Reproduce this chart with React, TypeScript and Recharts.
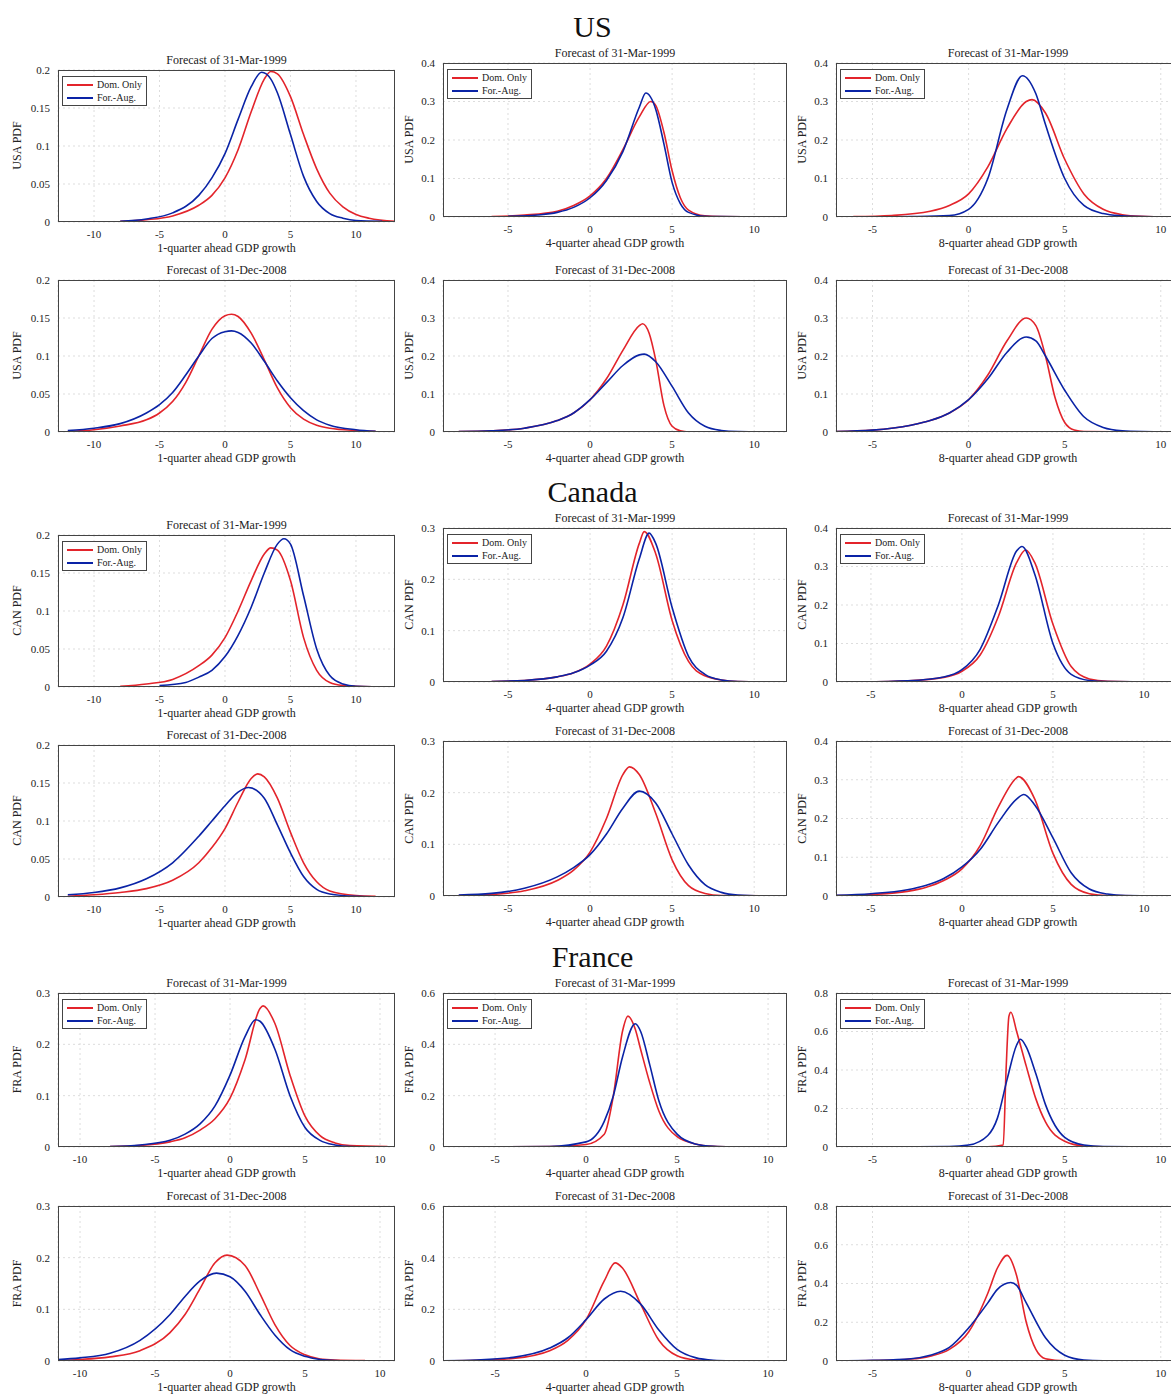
import React from 'react';
import { LineChart, Line, XAxis, YAxis, CartesianGrid } from 'recharts';

type P = [number, number][];
const RED = '#e3242b';
const BLUE = '#0a23a6';
const FONT = '"Liberation Serif", "DejaVu Serif", serif';

// ---- US ----
const us1q99Dom: P = [[-8,0.001],[-6,0.003],[-4,0.008],[-2,0.022],[-1,0.035],[0,0.058],[1,0.095],[2,0.145],[3,0.188],[3.5,0.198],[4,0.195],[5,0.165],[6,0.115],[7,0.07],[8,0.038],[9,0.02],[10,0.01],[11,0.005],[13,0.001]];
const us1q99For: P = [[-8,0.001],[-6,0.004],[-4,0.012],[-2,0.035],[-1,0.058],[0,0.09],[1,0.135],[2,0.178],[2.8,0.197],[3.5,0.188],[4,0.17],[5,0.115],[6,0.06],[7,0.027],[8,0.011],[9,0.005],[10,0.002],[12,0.001]];
const us4q99Dom: P = [[-6,0.001],[-4,0.005],[-2,0.015],[-1,0.03],[0,0.055],[1,0.1],[2,0.175],[3,0.26],[3.7,0.3],[4,0.29],[4.5,0.22],[5,0.12],[5.5,0.05],[6,0.018],[7,0.003],[8,0.001],[11,0]];
const us4q99For: P = [[-5,0.002],[-3,0.006],[-2,0.012],[-1,0.025],[0,0.05],[1,0.095],[2,0.17],[3,0.285],[3.4,0.322],[4,0.28],[4.5,0.19],[5,0.09],[5.5,0.035],[6,0.012],[7,0.002],[8,0.001],[11,0]];
const us8q99Dom: P = [[-6,0.001],[-4,0.004],[-2,0.015],[-1,0.03],[0,0.06],[1,0.13],[2,0.23],[3,0.3],[3.3,0.305],[4,0.27],[5,0.15],[6,0.06],[7,0.02],[8,0.006],[9,0.002],[11,0]];
const us8q99For: P = [[-5,0],[-3,0.001],[-1,0.004],[0,0.02],[1,0.1],[2,0.28],[2.8,0.367],[3.5,0.32],[4,0.24],[5,0.1],[6,0.03],[7,0.009],[8,0.003],[9,0.001],[11,0]];
const us1q08Dom: P = [[-12,0.001],[-10,0.003],[-8,0.008],[-6,0.016],[-5,0.025],[-4,0.04],[-3,0.065],[-2,0.1],[-1,0.135],[0,0.153],[0.5,0.155],[1,0.152],[2,0.13],[3,0.095],[4,0.058],[5,0.032],[6,0.017],[7,0.009],[8,0.005],[10,0.002],[11.5,0.001]];
const us1q08For: P = [[-12,0.002],[-10,0.005],[-8,0.011],[-6,0.025],[-5,0.036],[-4,0.052],[-3,0.075],[-2,0.1],[-1,0.123],[0,0.132],[0.5,0.133],[1,0.131],[2,0.117],[3,0.093],[4,0.067],[5,0.045],[6,0.028],[7,0.016],[8,0.009],[10,0.003],[11.5,0.001]];
const us4q08Dom: P = [[-8,0.001],[-6,0.003],[-4,0.01],[-2,0.03],[-1,0.05],[0,0.085],[1,0.14],[2,0.215],[3,0.28],[3.2,0.285],[3.6,0.26],[4,0.19],[4.5,0.07],[5,0.015],[5.5,0.003],[6,0],[11,0]];
const us4q08For: P = [[-8,0.001],[-6,0.003],[-4,0.01],[-2,0.03],[-1,0.05],[0,0.085],[1,0.13],[2,0.175],[3,0.203],[3.3,0.205],[4,0.185],[5,0.12],[6,0.05],[7,0.015],[8,0.004],[9,0.001],[11,0]];
const us8q08Dom: P = [[-7,0.001],[-5,0.005],[-3,0.018],[-2,0.03],[-1,0.05],[0,0.085],[1,0.15],[2,0.24],[3,0.3],[3.5,0.28],[4,0.2],[4.5,0.09],[5,0.025],[5.5,0.005],[6,0.001],[10,0]];
const us8q08For: P = [[-7,0.001],[-5,0.005],[-3,0.018],[-2,0.03],[-1,0.05],[0,0.085],[1,0.14],[2,0.21],[3,0.25],[3.5,0.24],[4,0.2],[5,0.11],[6,0.04],[7,0.012],[8,0.003],[9,0.001],[11,0]];

// ---- Canada ----
const ca1q99Dom: P = [[-8,0.001],[-6,0.004],[-4,0.01],[-2,0.028],[-1,0.042],[0,0.065],[1,0.1],[2,0.14],[3,0.175],[3.5,0.183],[4,0.18],[5,0.14],[6,0.065],[7,0.022],[8,0.006],[9,0.002],[10,0.001],[13,0]];
const ca1q99For: P = [[-5,0.002],[-3,0.006],[-2,0.013],[-1,0.022],[0,0.04],[1,0.068],[2,0.105],[3,0.15],[4,0.188],[4.5,0.195],[5,0.188],[6,0.12],[7,0.05],[8,0.015],[9,0.004],[10,0.001],[13,0]];
const ca4q99Dom: P = [[-6,0.001],[-4,0.003],[-2,0.01],[-1,0.018],[0,0.035],[1,0.07],[2,0.15],[3,0.27],[3.3,0.293],[4,0.25],[5,0.12],[6,0.04],[7,0.012],[8,0.004],[9,0.001],[11.5,0]];
const ca4q99For: P = [[-6,0.001],[-4,0.003],[-2,0.01],[-1,0.018],[0,0.033],[1,0.06],[2,0.125],[3,0.24],[3.6,0.29],[4,0.27],[5,0.145],[6,0.05],[7,0.015],[8,0.004],[9,0.001],[11.5,0]];
const ca8q99Dom: P = [[-5.5,0],[-3,0.003],[-1,0.012],[0,0.028],[1,0.07],[2,0.17],[3,0.31],[3.5,0.343],[4,0.31],[5,0.15],[6,0.04],[7,0.008],[8,0.002],[11,0]];
const ca8q99For: P = [[-5.5,0],[-3,0.003],[-1,0.013],[0,0.032],[1,0.085],[2,0.2],[3,0.34],[3.3,0.352],[4,0.28],[5,0.1],[6,0.02],[7,0.004],[8,0.001],[11,0]];
const ca1q08Dom: P = [[-12,0.001],[-10,0.003],[-8,0.006],[-6,0.011],[-4,0.022],[-2,0.045],[-1,0.065],[0,0.09],[1,0.125],[2,0.156],[2.5,0.162],[3,0.158],[4,0.13],[5,0.085],[6,0.045],[7,0.02],[8,0.008],[10,0.002],[11.5,0.001]];
const ca1q08For: P = [[-12,0.003],[-10,0.006],[-8,0.012],[-6,0.024],[-4,0.045],[-2,0.08],[-1,0.1],[0,0.12],[1,0.138],[1.8,0.144],[3,0.13],[4,0.095],[5,0.058],[6,0.027],[7,0.01],[8,0.004],[10,0.001],[13,0]];
const ca4q08Dom: P = [[-8,0.001],[-6,0.003],[-4,0.01],[-2,0.03],[-1,0.05],[0,0.085],[1,0.15],[2,0.235],[2.4,0.25],[3,0.235],[4,0.16],[5,0.07],[6,0.02],[7,0.005],[8,0.001],[11.5,0]];
const ca4q08For: P = [[-8,0.002],[-6,0.005],[-4,0.015],[-2,0.037],[-1,0.055],[0,0.08],[1,0.12],[2,0.17],[3,0.203],[4,0.18],[5,0.12],[6,0.06],[7,0.022],[8,0.007],[9,0.002],[11.5,0]];
const ca8q08Dom: P = [[-7,0.001],[-5,0.004],[-3,0.012],[-2,0.022],[-1,0.04],[0,0.07],[1,0.13],[2,0.23],[3,0.305],[3.1,0.308],[4,0.25],[5,0.11],[6,0.03],[7,0.006],[8,0.001],[11,0]];
const ca8q08For: P = [[-7,0.002],[-5,0.006],[-3,0.016],[-2,0.027],[-1,0.045],[0,0.075],[1,0.12],[2,0.19],[3,0.25],[3.4,0.262],[4,0.235],[5,0.15],[6,0.06],[7,0.018],[8,0.005],[9,0.001],[11,0]];

// ---- France ----
const fr1q99Dom: P = [[-8,0.001],[-6,0.003],[-4,0.01],[-3,0.018],[-2,0.033],[-1,0.055],[0,0.095],[1,0.17],[2,0.27],[2.2,0.275],[3,0.24],[4,0.14],[5,0.06],[6,0.022],[7,0.008],[8,0.003],[10.5,0.001]];
const fr1q99For: P = [[-8,0.001],[-6,0.004],[-4,0.013],[-3,0.025],[-2,0.045],[-1,0.08],[0,0.14],[1,0.215],[1.7,0.248],[2,0.245],[3,0.19],[4,0.1],[5,0.038],[6,0.013],[7,0.004],[8,0.001],[10.5,0]];
const fr4q99Dom: P = [[-5,0],[-2,0.002],[0,0.01],[1,0.05],[1.5,0.2],[2,0.45],[2.3,0.51],[2.7,0.46],[3,0.38],[3.5,0.25],[4,0.14],[5,0.04],[6,0.012],[7,0.003],[8,0.001],[10.5,0]];
const fr4q99For: P = [[-5,0],[-2,0.002],[0,0.02],[1,0.1],[1.5,0.2],[2,0.35],[2.7,0.48],[3,0.45],[3.5,0.32],[4,0.18],[5,0.05],[6,0.012],[7,0.003],[8,0.001],[10.5,0]];
const fr8q99Dom: P = [[-5,0],[-1,0],[1,0.001],[1.8,0.01],[1.95,0.4],[2.1,0.68],[2.2,0.7],[2.5,0.6],[3,0.42],[3.5,0.25],[4,0.13],[5,0.03],[6,0.005],[7,0.001],[10,0]];
const fr8q99For: P = [[-4.5,0],[-1,0.002],[0,0.01],[1,0.06],[1.5,0.15],[2,0.35],[2.5,0.53],[2.7,0.56],[3,0.52],[3.5,0.38],[4,0.22],[5,0.05],[6,0.01],[7,0.002],[10,0]];
const fr1q08Dom: P = [[-12,0.001],[-10,0.003],[-8,0.008],[-6,0.02],[-4,0.055],[-3,0.09],[-2,0.14],[-1,0.19],[-0.2,0.205],[1,0.185],[2,0.13],[3,0.07],[4,0.03],[5,0.012],[6,0.004],[7,0.002],[9,0.001]];
const fr1q08For: P = [[-12,0.002],[-10,0.006],[-8,0.015],[-6,0.04],[-4,0.09],[-3,0.125],[-2,0.155],[-0.9,0.17],[0,0.163],[1,0.135],[2,0.09],[3,0.05],[4,0.022],[5,0.009],[6,0.003],[7,0.001],[9,0]];
const fr4q08Dom: P = [[-8,0.001],[-6,0.003],[-4,0.01],[-2,0.04],[-1,0.08],[0,0.16],[1,0.31],[1.6,0.38],[2,0.36],[3,0.22],[4,0.08],[5,0.02],[6,0.004],[7,0.001],[10,0]];
const fr4q08For: P = [[-8,0.001],[-6,0.004],[-4,0.014],[-2,0.05],[-1,0.09],[0,0.16],[1,0.24],[1.9,0.27],[3,0.22],[4,0.12],[5,0.045],[6,0.013],[7,0.003],[8,0.001],[10,0]];
const fr8q08Dom: P = [[-7,0],[-5,0.002],[-3,0.01],[-2,0.025],[-1,0.06],[0,0.15],[1,0.35],[1.5,0.48],[2,0.545],[2.5,0.44],[3,0.2],[3.5,0.06],[4,0.012],[5,0.001],[9,0]];
const fr8q08For: P = [[-7,0],[-5,0.003],[-3,0.012],[-2,0.03],[-1,0.07],[0,0.17],[1,0.3],[1.5,0.37],[2.2,0.405],[2.5,0.39],[3,0.3],[4,0.12],[5,0.03],[6,0.005],[7,0.001],[9,0]];

const xTicks1 = [-10, -5, 0, 5, 10];
const xTicks2 = [-5, 0, 5, 10];
const yT02 = [0, 0.05, 0.1, 0.15, 0.2];
const yT03 = [0, 0.1, 0.2, 0.3];
const yT04 = [0, 0.1, 0.2, 0.3, 0.4];
const yT06 = [0, 0.2, 0.4, 0.6];
const yT08 = [0, 0.2, 0.4, 0.6, 0.8];
const xLabels = ['1-quarter ahead GDP growth', '4-quarter ahead GDP growth', '8-quarter ahead GDP growth'];
const titles = ['Forecast of 31-Mar-1999', 'Forecast of 31-Dec-2008'];

type Panel = { l: number; t: number; r: number; b: number; xd: [number, number]; xt: number[]; yt: number[]; dom: P; fr: P; col: number; row: number; yl: string; legend?: boolean };

const C1 = [58, 395], C2 = [443, 787], C3 = [836, 1180];
const panels: Panel[] = [
  { l: C1[0], r: C1[1], t: 70, b: 222, xd: [-12.75, 12.98], xt: xTicks1, yt: yT02, dom: us1q99Dom, fr: us1q99For, col: 0, row: 0, yl: 'USA PDF', legend: true },
  { l: C2[0], r: C2[1], t: 63, b: 217, xd: [-8.96, 12.0], xt: xTicks2, yt: yT04, dom: us4q99Dom, fr: us4q99For, col: 1, row: 0, yl: 'USA PDF', legend: true },
  { l: C3[0], r: C3[1], t: 63, b: 217, xd: [-6.9, 11.0], xt: xTicks2, yt: yT04, dom: us8q99Dom, fr: us8q99For, col: 2, row: 0, yl: 'USA PDF', legend: true },
  { l: C1[0], r: C1[1], t: 280, b: 432, xd: [-12.75, 12.98], xt: xTicks1, yt: yT02, dom: us1q08Dom, fr: us1q08For, col: 0, row: 1, yl: 'USA PDF' },
  { l: C2[0], r: C2[1], t: 280, b: 432, xd: [-8.96, 12.0], xt: xTicks2, yt: yT04, dom: us4q08Dom, fr: us4q08For, col: 1, row: 1, yl: 'USA PDF' },
  { l: C3[0], r: C3[1], t: 280, b: 432, xd: [-6.9, 11.0], xt: xTicks2, yt: yT04, dom: us8q08Dom, fr: us8q08For, col: 2, row: 1, yl: 'USA PDF' },
  { l: C1[0], r: C1[1], t: 535, b: 687, xd: [-12.75, 12.98], xt: xTicks1, yt: yT02, dom: ca1q99Dom, fr: ca1q99For, col: 0, row: 0, yl: 'CAN PDF', legend: true },
  { l: C2[0], r: C2[1], t: 528, b: 682, xd: [-8.96, 12.0], xt: xTicks2, yt: yT03, dom: ca4q99Dom, fr: ca4q99For, col: 1, row: 0, yl: 'CAN PDF', legend: true },
  { l: C3[0], r: C3[1], t: 528, b: 682, xd: [-6.92, 11.98], xt: xTicks2, yt: yT04, dom: ca8q99Dom, fr: ca8q99For, col: 2, row: 0, yl: 'CAN PDF', legend: true },
  { l: C1[0], r: C1[1], t: 745, b: 897, xd: [-12.75, 12.98], xt: xTicks1, yt: yT02, dom: ca1q08Dom, fr: ca1q08For, col: 0, row: 1, yl: 'CAN PDF' },
  { l: C2[0], r: C2[1], t: 741, b: 896, xd: [-8.96, 12.0], xt: xTicks2, yt: yT03, dom: ca4q08Dom, fr: ca4q08For, col: 1, row: 1, yl: 'CAN PDF' },
  { l: C3[0], r: C3[1], t: 741, b: 896, xd: [-6.92, 11.98], xt: xTicks2, yt: yT04, dom: ca8q08Dom, fr: ca8q08For, col: 2, row: 1, yl: 'CAN PDF' },
  { l: C1[0], r: C1[1], t: 993, b: 1147, xd: [-11.47, 11.0], xt: xTicks1, yt: yT03, dom: fr1q99Dom, fr: fr1q99For, col: 0, row: 0, yl: 'FRA PDF', legend: true },
  { l: C2[0], r: C2[1], t: 993, b: 1147, xd: [-7.86, 11.04], xt: xTicks2, yt: yT06, dom: fr4q99Dom, fr: fr4q99For, col: 1, row: 0, yl: 'FRA PDF', legend: true },
  { l: C3[0], r: C3[1], t: 993, b: 1147, xd: [-6.9, 11.0], xt: xTicks2, yt: yT08, dom: fr8q99Dom, fr: fr8q99For, col: 2, row: 0, yl: 'FRA PDF', legend: true },
  { l: C1[0], r: C1[1], t: 1206, b: 1361, xd: [-11.47, 11.0], xt: xTicks1, yt: yT03, dom: fr1q08Dom, fr: fr1q08For, col: 0, row: 1, yl: 'FRA PDF' },
  { l: C2[0], r: C2[1], t: 1206, b: 1361, xd: [-7.86, 11.04], xt: xTicks2, yt: yT06, dom: fr4q08Dom, fr: fr4q08For, col: 1, row: 1, yl: 'FRA PDF' },
  { l: C3[0], r: C3[1], t: 1206, b: 1361, xd: [-6.9, 11.0], xt: xTicks2, yt: yT08, dom: fr8q08Dom, fr: fr8q08For, col: 2, row: 1, yl: 'FRA PDF' },
];

const sections = [{ name: 'US', y: 27 }, { name: 'Canada', y: 492 }, { name: 'France', y: 957 }];

const toPts = (p: P) => p.map(([x, y]) => ({ x, y }));
const tickStyle = { fontSize: 11, fill: '#222', fontFamily: FONT };
const YW = 45, XH = 40, MT = 8;

function PanelView({ p }: { p: Panel }) {
  const w = p.r - p.l, h = p.b - p.t;
  const ymax = p.yt[p.yt.length - 1];
  return (
    <>
      <div style={{ position: 'absolute', left: p.l - YW, top: p.t - MT }}>
        <LineChart width={w + YW} height={h + XH + MT} margin={{ top: MT, right: 0, bottom: 0, left: 0 }}>
          <CartesianGrid stroke="#ddd" strokeDasharray="2 3" />
          <XAxis dataKey="x" type="number" domain={p.xd} ticks={p.xt} allowDataOverflow axisLine={false} tickLine={false} tick={tickStyle} height={XH} tickMargin={2} interval={0} />
          <YAxis type="number" domain={[0, ymax]} ticks={p.yt} allowDataOverflow axisLine={false} tickLine={false} tick={tickStyle} width={YW} tickMargin={2} interval={0} />
          <Line data={toPts(p.dom)} dataKey="y" type="monotone" dot={false} stroke={RED} strokeWidth={1.6} isAnimationActive={false} />
          <Line data={toPts(p.fr)} dataKey="y" type="monotone" dot={false} stroke={BLUE} strokeWidth={1.6} isAnimationActive={false} />
        </LineChart>
      </div>
      <div style={{ position: 'absolute', left: p.l, top: p.t, width: w, height: h, border: '1px solid #444', boxSizing: 'border-box', pointerEvents: 'none' }} />
      <div style={{ position: 'absolute', left: p.l, width: w, top: p.t - 17, textAlign: 'center', fontSize: 12, fontFamily: FONT, color: '#222' }}>{titles[p.row]}</div>
      <div style={{ position: 'absolute', left: p.l, width: w, top: p.b + 19, textAlign: 'center', fontSize: 12, fontFamily: FONT, color: '#222' }}>{xLabels[p.col]}</div>
      <div style={{ position: 'absolute', left: p.l - (p.col === 0 ? 41 : 34) - 40, width: 80, top: (p.t + p.b) / 2 - 8, textAlign: 'center', fontSize: 12, fontFamily: FONT, color: '#222', transform: 'rotate(-90deg)' }}>{p.yl}</div>
      {p.legend && (
        <div style={{ position: 'absolute', left: p.l + 4, top: p.t + 6, border: '1px solid #444', background: '#fff', padding: '1px 4px', fontSize: 10, fontFamily: FONT, color: '#222', lineHeight: '13px' }}>
          <div style={{ display: 'flex', alignItems: 'center' }}><span style={{ display: 'inline-block', width: 26, height: 2, background: RED, marginRight: 4 }} />Dom. Only</div>
          <div style={{ display: 'flex', alignItems: 'center' }}><span style={{ display: 'inline-block', width: 26, height: 2, background: BLUE, marginRight: 4 }} />For.-Aug.</div>
        </div>
      )}
    </>
  );
}

export default function App() {
  return (
    <div style={{ position: 'absolute', left: 0, top: 0, width: 1171, height: 1396, overflow: 'hidden', background: '#fff' }}>
      {sections.map((s) => (
        <div key={s.name} style={{ position: 'absolute', left: 0, width: 1185, top: s.y - 18, textAlign: 'center', fontSize: 30, fontFamily: FONT, color: '#111', lineHeight: '36px' }}>{s.name}</div>
      ))}
      {panels.map((p, i) => <PanelView key={i} p={p} />)}
    </div>
  );
}
